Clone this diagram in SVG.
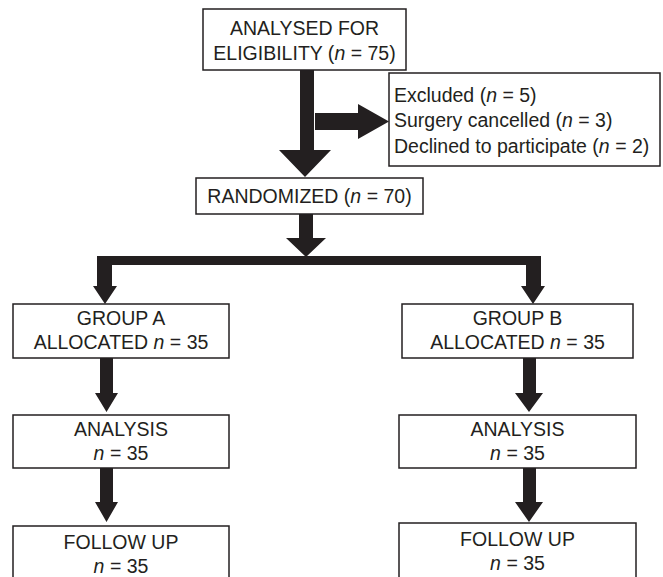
<svg xmlns="http://www.w3.org/2000/svg" width="663" height="577" viewBox="0 0 663 577">
<style>
.box{fill:#fff;stroke:#231f20;stroke-width:1.5}
.t{font-family:"Liberation Sans",Arial,sans-serif;font-size:19.5px;fill:#231f20}
.c{text-anchor:middle}
.arr{fill:#231f20;stroke:none}
</style>
<rect width="663" height="577" fill="#fff"/>
<g id="connectors">
<polygon class="arr" points="300,70 314,70 314,150 331,150 305,177 279,150 300,150"/>
<polygon class="arr" points="315,113 358,113 358,104 389,121.5 358,139 358,130 315,130"/>
<polygon class="arr" points="299,214 313,214 313,238 326,238 306,257 286,238 299,238"/>
<path class="arr" d="M97,256 H541 V286 H545 L533,304 L521,286 H526 V265 H112 V286 H117 L105,304 L93,286 H97 Z"/>
<polygon class="arr" points="100,358 113,358 113,393 118,393 106.5,412 95,393 100,393"/>
<polygon class="arr" points="100,468 113,468 113,502 118,502 106.5,522 95,502 100,502"/>
<polygon class="arr" points="523,358 536,358 536,393 543,393 529,412 515,393 523,393"/>
<polygon class="arr" points="523,468 536,468 536,502 543,502 529,522 515,502 523,502"/>
</g>
<g id="eligibility">
<rect class="box" x="203" y="9" width="203" height="61"/>
<text class="t c" x="304.5" y="35">ANALYSED FOR</text>
<text class="t c" x="304.5" y="60">ELIGIBILITY (<tspan font-style="italic">n</tspan> = 75)</text>
</g>
<g id="excluded">
<rect class="box" x="389" y="73" width="271" height="93"/>
<text class="t" x="394" y="102">Excluded (<tspan font-style="italic">n</tspan> = 5)</text>
<text class="t" x="394" y="127">Surgery cancelled (<tspan font-style="italic">n</tspan> = 3)</text>
<text class="t" x="394" y="152.5">Declined to participate (<tspan font-style="italic">n</tspan> = 2)</text>
</g>
<g id="randomized">
<rect class="box" x="196" y="178" width="227" height="36"/>
<text class="t c" x="309.5" y="203">RANDOMIZED (<tspan font-style="italic">n</tspan> = 70)</text>
</g>
<g id="groupA">
<rect class="box" x="13" y="304" width="216" height="54"/>
<text class="t c" x="121" y="324.5">GROUP A</text>
<text class="t c" x="121" y="348.5">ALLOCATED <tspan font-style="italic">n</tspan> = 35</text>
</g>
<g id="analysisA">
<rect class="box" x="13" y="415" width="216" height="53"/>
<text class="t c" x="121" y="435.5">ANALYSIS</text>
<text class="t c" x="121" y="459.5"><tspan font-style="italic">n</tspan> = 35</text>
</g>
<g id="followA">
<rect class="box" x="13" y="526" width="216" height="60"/>
<text class="t c" x="121" y="548.5">FOLLOW UP</text>
<text class="t c" x="121" y="572.5"><tspan font-style="italic">n</tspan> = 35</text>
</g>
<g id="groupB">
<rect class="box" x="402" y="304" width="231" height="54"/>
<text class="t c" x="517.5" y="324.5">GROUP B</text>
<text class="t c" x="517.5" y="348.5">ALLOCATED <tspan font-style="italic">n</tspan> = 35</text>
</g>
<g id="analysisB">
<rect class="box" x="399" y="415" width="237" height="53"/>
<text class="t c" x="517.5" y="435.5">ANALYSIS</text>
<text class="t c" x="517.5" y="459.5"><tspan font-style="italic">n</tspan> = 35</text>
</g>
<g id="followB">
<rect class="box" x="399" y="523" width="237" height="63"/>
<text class="t c" x="517.5" y="545.5">FOLLOW UP</text>
<text class="t c" x="517.5" y="569.5"><tspan font-style="italic">n</tspan> = 35</text>
</g>
</svg>
